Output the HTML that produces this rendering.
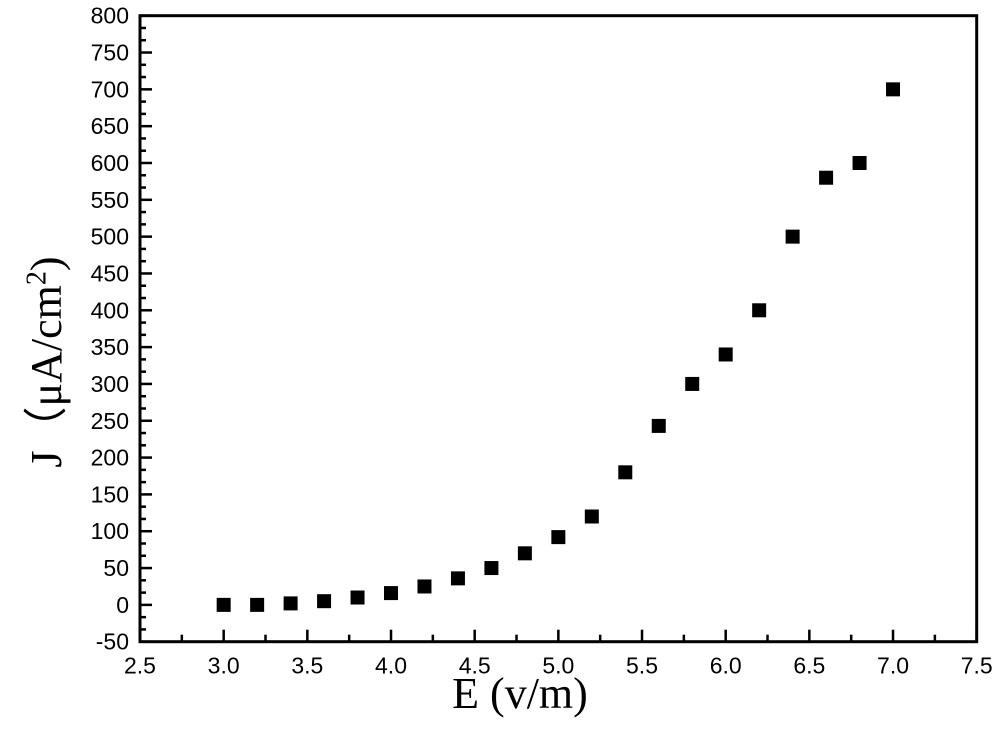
<!DOCTYPE html>
<html><head><meta charset="utf-8"><style>
body{margin:0;background:#fff}
svg{display:block}
</style></head><body>
<svg id="c" width="1000" height="756" xmlns="http://www.w3.org/2000/svg"></svg>
<script>
const xVals=[3.0,3.2,3.4,3.6,3.8,4.0,4.2,4.4,4.6,4.8,5.0,5.2,5.4,5.6,5.8,6.0,6.2,6.4,6.6,6.8,7.0];
const yVals=[0,0,2,5,10,16,25,36,50,70,92,120,180,243,300,340,400,500,580,600,700];
const xTicks=["2.5","3.0","3.5","4.0","4.5","5.0","5.5","6.0","6.5","7.0","7.5"];
const yTicks=["-50","0","50","100","150","200","250","300","350","400","450","500","550","600","650","700","750","800"];
const L=140,R=976.7,T=15.7,B=641.7,xmin=2.5,xmax=7.5,ymin=-50,ymax=800;
const sx=v=>L+(v-xmin)/(xmax-xmin)*(R-L);
const sy=v=>B-(v-ymin)/(ymax-ymin)*(B-T);
const svg=document.getElementById('c');const NS='http://www.w3.org/2000/svg';
function mk(t,a,txt){const e=document.createElementNS(NS,t);for(const k in a)e.setAttribute(k,a[k]);if(txt!=null)e.textContent=txt;svg.appendChild(e);return e;}
xTicks.forEach((t,i)=>{const v=parseFloat(t);const x=sx(v);
 const tk=mk('line',{x1:x,x2:x,y1:B,y2:B-12,stroke:'#000','stroke-width':2.5});
 
 
 if(i<xTicks.length-1){const m=sx(v+0.25);const mt=mk('line',{x1:m,x2:m,y1:B,y2:B-7,stroke:'#000','stroke-width':2.5});
 
 }
 const lb=mk('text',{x:x,y:B+32,'text-anchor':'middle','font-family':'Liberation Sans, sans-serif','font-size':23},t);
 
 
});
yTicks.forEach((t,i)=>{const v=parseFloat(t);const y=sy(v);
 const tk=mk('line',{x1:L,x2:L+12,y1:y,y2:y,stroke:'#000','stroke-width':2.5});
 
 
 if(i<yTicks.length-1){[50/3,100/3].forEach(d=>{const m=sy(v+d);const mt=mk('line',{x1:L,x2:L+6,y1:m,y2:m,stroke:'#000','stroke-width':2.5});
 
 });}
 const lb=mk('text',{x:L-11,y:y+8,'text-anchor':'end','font-family':'Liberation Sans, sans-serif','font-size':23},t);
 
 
});
const fr=mk('rect',{x:L,y:T,width:R-L,height:B-T,fill:'none',stroke:'#000','stroke-width':3});


xVals.forEach((xv,i)=>{const p=mk('rect',{x:sx(xv)-7,y:sy(yVals[i])-7,width:14,height:14,fill:'#000'});
 
 });
</script>
<div style="position:absolute;left:0;width:1000px;top:668px;padding-left:40px;box-sizing:border-box;text-align:center;font:44px 'Liberation Serif',serif">E (v/m)</div>
<div style="position:absolute;left:42px;top:362px;transform:translate(-50%,-50%) rotate(-90deg);white-space:nowrap;font:44px 'Liberation Serif',serif">J（μA/cm<sup style="font-size:28px">2</sup>)</div>
</body></html>
